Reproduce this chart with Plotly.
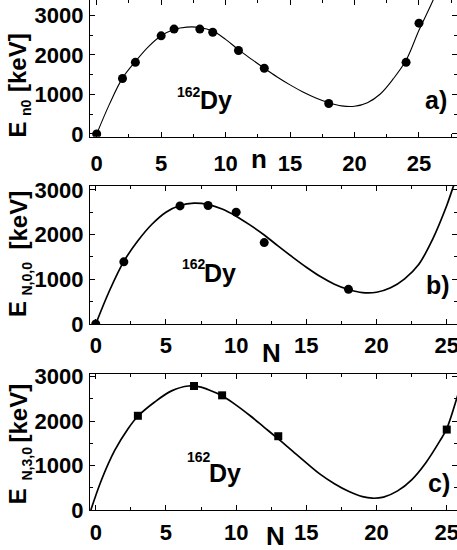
import plotly.graph_objects as go

W, H = 457, 550

# ---------------- data ----------------
# panel a) experimental points
n_a = [0, 2, 3, 5, 6, 8, 9, 11, 13, 18, 24, 25]
E_a = [0, 1400, 1810, 2480, 2650, 2650, 2570, 2110, 1660, 770, 1810, 2800]
# panel a) calculated curve (read off the picture)
cn_a = [0, 1, 2, 3, 4, 5, 6, 7, 8, 9, 10, 11, 12, 13, 14, 15, 16, 17, 18, 19, 20, 21, 22, 23, 24, 25, 26.1, 26.6]
cE_a = [0, 760, 1410, 1830, 2200, 2480, 2640, 2700, 2690, 2600, 2390, 2130, 1890, 1660, 1440, 1240, 1060, 910, 790, 710, 700, 790, 1010, 1390, 1860, 2620, 3385, 3800]

# panel b)
N_b = [0, 2, 6, 8, 10, 12, 18]
E_b = [0, 1390, 2640, 2650, 2500, 1820, 775]
cN_b = [0, 1, 2, 3, 4, 5, 6, 7, 8, 9, 10, 11, 12, 13, 14, 15, 16, 17, 18, 19, 20, 21, 22, 23, 24, 25, 25.5, 26]
cE_b = [0, 760, 1400, 1860, 2230, 2500, 2650, 2700, 2670, 2570, 2410, 2210, 1990, 1740, 1500, 1270, 1060, 890, 770, 700, 710, 810, 1010, 1330, 1900, 2650, 3100, 3500]

# panel c)
N_c = [3, 7, 9, 13, 25]
E_c = [2120, 2790, 2580, 1660, 1810]
cN_c = [-0.35, 0.4, 1.35, 2.3, 3, 4.2, 5.4, 6.6, 7.5, 8, 9, 10, 11, 12, 13, 14, 15, 16, 17, 18, 19, 19.7, 20.5, 21.5, 22.5, 23.5, 24.5, 25, 25.8, 26.2]
cE_c = [0, 670, 1340, 1830, 2110, 2430, 2680, 2790, 2765, 2710, 2570, 2360, 2120, 1860, 1600, 1330, 1060, 800, 590, 420, 300, 265, 290, 430, 680, 1060, 1550, 1830, 2600, 3000]

y_ticks = [0, 1000, 2000, 3000]
x_ticks = [0, 5, 10, 15, 20, 25]

FONT = "Liberation Sans"
BLACK = "#000000"


def px(x):
    return x / W


def py(y):
    return 1 - y / H


fig = go.Figure()

# panel a
fig.add_trace(go.Scatter(x=cn_a, y=cE_a, mode="lines", line=dict(color=BLACK, width=1.1, shape="spline", smoothing=1.0),
                         xaxis="x", yaxis="y", showlegend=False))
fig.add_trace(go.Scatter(x=n_a, y=E_a, mode="markers", marker=dict(symbol="circle", size=9, color=BLACK),
                         xaxis="x", yaxis="y", showlegend=False))
# panel b
fig.add_trace(go.Scatter(x=cN_b, y=cE_b, mode="lines", line=dict(color=BLACK, width=1.7, shape="spline", smoothing=1.0),
                         xaxis="x2", yaxis="y2", showlegend=False))
fig.add_trace(go.Scatter(x=N_b, y=E_b, mode="markers", marker=dict(symbol="circle", size=9, color=BLACK),
                         xaxis="x2", yaxis="y2", showlegend=False))
# panel c
fig.add_trace(go.Scatter(x=cN_c, y=cE_c, mode="lines", line=dict(color=BLACK, width=1.7, shape="spline", smoothing=1.0),
                         xaxis="x3", yaxis="y3", showlegend=False))
fig.add_trace(go.Scatter(x=N_c, y=E_c, mode="markers", marker=dict(symbol="square", size=8, color=BLACK),
                         xaxis="x3", yaxis="y3", showlegend=False))

tickfont = dict(family=FONT, size=22, color=BLACK, weight="bold")
xdom = [px(90), 1.0]


def xax(rng, anchor, standoff):
    return dict(domain=xdom, range=rng, anchor=anchor, tickmode="array", tickvals=x_ticks,
                ticks="inside", ticklen=5, tickwidth=1.3, tickcolor=BLACK,
                minor=dict(dtick=2.5, tick0=0, ticks="inside", ticklen=3, tickwidth=1.2, tickcolor=BLACK),
                showline=True, linecolor=BLACK, linewidth=1.4, mirror="allticks",
                showgrid=False, zeroline=False, tickfont=tickfont, ticklabelstandoff=standoff,
                ticklabeloverflow="allow", automargin=False)


def yax(dom, rng, anchor):
    return dict(domain=dom, range=rng, anchor=anchor, tickmode="array", tickvals=y_ticks,
                ticks="inside", ticklen=5, tickwidth=1.3, tickcolor=BLACK,
                minor=dict(dtick=500, tick0=0, ticks="inside", ticklen=3, tickwidth=1.2, tickcolor=BLACK),
                showline=True, linecolor=BLACK, linewidth=1.4, mirror="allticks",
                showgrid=False, zeroline=False, tickfont=tickfont, ticklabelstandoff=1,
                ticklabeloverflow="allow", automargin=False)


fig.update_layout(
    width=W, height=H,
    margin=dict(l=0, r=0, t=0, b=0, autoexpand=False),
    paper_bgcolor="white", plot_bgcolor="white",
    xaxis=xax([-0.52, 27.95], "y", 7),
    yaxis=yax([py(136.7), 1.0], [-70, 3385], "x"),
    xaxis2=xax([-0.41, 25.73], "y2", 1),
    yaxis2=yax([py(324), py(186)], [0, 3085], "x2"),
    xaxis3=xax([-0.41, 25.73], "y3", 2),
    yaxis3=yax([py(510), py(374)], [0, 3060], "x3"),
)

ann = []


def text(x, y, s, size, xanchor="center", yanchor="middle", angle=0):
    ann.append(dict(x=px(x), y=py(y), xref="paper", yref="paper", text=s, showarrow=False,
                    xanchor=xanchor, yanchor=yanchor, textangle=angle,
                    font=dict(family=FONT, size=size, color=BLACK, weight="bold")))


# y-axis titles (E, subscript, [keV])
ytitles = [
    ("n0", 130, 107.5, 62.5),
    ("N,0,0", 309.5, 279, 220),
    ("N,3,0", 496.7, 464, 413),
]
for sub, yE, ys, yk in ytitles:
    text(17.5, yE, "E", 24, angle=-90)
    text(26.5, ys, sub, 14, angle=-90)
    text(17.5, yk, "[keV]", 24, angle=-90)

# x-axis titles
text(259, 159.2, "n", 26)
text(271, 352.5, "N", 26)
text(275, 535.9, "N", 26)

# 162Dy labels
for (x162, b162, xDy, bDy) in [(175, 97.3, 197.5, 108.3), (180, 269.3, 201.7, 281.7), (185, 462.3, 207.3, 481.7)]:
    text(x162, b162 - 4.9, "162", 14, xanchor="left")
    text(xDy, bDy - 8.7, "Dy", 25, xanchor="left")

# panel letters
text(436, 99.6, "a)", 25)
text(438, 284.6, "b)", 25)
text(439, 483, "c)", 25)

fig.update_layout(annotations=ann)

fig.write_html("out.html", config={"displayModeBar": False},
               post_script="document.body.style.margin='0px';document.body.style.overflow='hidden';")
